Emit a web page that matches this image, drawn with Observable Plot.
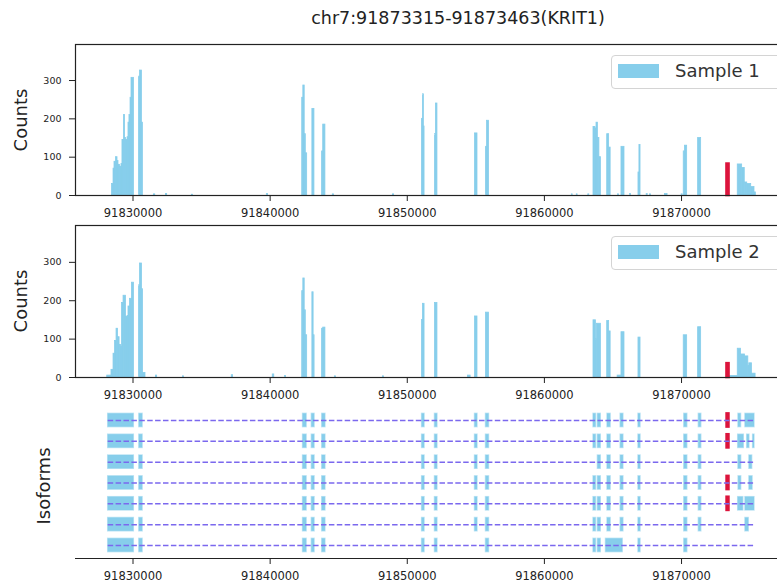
<!DOCTYPE html>
<html>
<head>
<meta charset="utf-8">
<script src="https://cdn.jsdelivr.net/npm/d3@7"></script>
<script src="https://cdn.jsdelivr.net/npm/@observablehq/plot@0.6"></script>
<style>
  html, body { margin: 0; padding: 0; background: #fff; overflow: hidden; }
  #wrap { position: relative; width: 777px; height: 584px; overflow: hidden; background: #fff; font-family: "DejaVu Sans", sans-serif; color: #222; }
  .abs { position: absolute; width: 800px; }
  .abs svg { max-width: none !important; }
  .ylab { position: absolute; font-size: 18px; transform: translate(-50%, -50%) rotate(-90deg); white-space: nowrap; color: #222; }
  .legend { position: absolute; background: #fff; border: 1px solid #d4d4d4; border-radius: 4px; height: 32px; width: 200px; }
  .legend .sw { position: absolute; left: 6px; top: 8px; width: 41px; height: 14px; background: #87CEEB; }
  .legend .tx { position: absolute; left: 63px; top: 4px; font-size: 18px; color: #333; white-space: nowrap; }
  #title { position: absolute; top: 8px; left: 458px; transform: translateX(-50%); font-size: 17.5px; white-space: nowrap; color: #222; }
</style>
</head>
<body>
<div id="wrap">
  <div id="title">chr7:91873315-91873463(KRIT1)</div>
  <div id="p1" class="abs" style="left:0;top:40px"></div>
  <div id="p2" class="abs" style="left:0;top:221px"></div>
  <div id="p3" class="abs" style="left:0;top:396px"></div>
  <div class="ylab" style="left:20px;top:120px">Counts</div>
  <div class="ylab" style="left:20px;top:301px">Counts</div>
  <div class="ylab" style="left:43px;top:486px">Isoforms</div>
  <div class="legend" style="left:611px;top:55px"><div class="sw"></div><div class="tx">Sample 1</div></div>
  <div class="legend" style="left:611px;top:236px"><div class="sw"></div><div class="tx">Sample 2</div></div>
</div>
<script>
// ---------------- data ----------------
const xTicks = [91830000, 91840000, 91850000, 91860000, 91870000];
const yTicks = [0, 100, 200, 300];
const highlight = [91873315, 91873463];
const highlightCounts = [82, 36];
const geneSpan = [91828190, 91875320];

// Sample 1 coverage: [start, end, count]
const cov1 = [
  [91828470,91828580,30],[91828580,91828650,70],[91828650,91828760,88],[91828760,91828870,100],
  [91828870,91828940,90],[91828940,91829050,80],[91829050,91829160,75],[91829160,91829230,82],
  [91829230,91829340,145],[91829340,91829420,210],[91829420,91829490,150],[91829490,91829600,145],
  [91829600,91829670,152],[91829670,91829740,190],[91829740,91829820,210],[91829820,91829890,255],
  [91829890,91830070,307],[91830440,91830510,310],[91830510,91830650,326],[91830650,91830720,190],
  [91831520,91831620,3],[91832400,91832490,4],[91834290,91834380,2],[91839760,91839850,4],
  [91844570,91844660,3],[91848950,91849040,3],
  [91842340,91842420,255],[91842420,91842520,287],[91842520,91842600,160],[91842600,91842700,110],
  [91843080,91843230,226],[91843790,91843870,115],[91843870,91844030,185],
  [91851070,91851140,200],[91851140,91851210,264],[91851210,91851260,180],
  [91852020,91852090,160],[91852090,91852200,240],[91854940,91855120,162],
  [91855740,91855820,127],[91855820,91855960,195],
  [91862000,91862060,3],[91862360,91862420,3],[91863200,91863270,3],
  [91863580,91863720,179],[91863720,91863800,175],[91863800,91863900,190],[91863900,91864010,150],
  [91864010,91864120,100],[91864580,91864720,160],[91864720,91864830,125],[91865360,91865440,3],
  [91865620,91865840,127],[91866240,91866310,4],[91866860,91866930,60],[91866930,91867010,132],
  [91867460,91867530,4],[91867700,91867770,3],[91868800,91868980,4],[91870010,91870080,3],
  [91870160,91870250,115],[91870250,91870410,130],[91871210,91871430,150],
  [91874100,91874420,81],[91874420,91874610,72],[91874610,91874790,34],[91874790,91875080,30],
  [91875080,91875320,22],[91875320,91875420,8]
];

// Sample 2 coverage: [start, end, count]
const cov2 = [
  [91828120,91828430,5],[91828430,91828580,20],[91828580,91828690,62],[91828690,91828800,95],
  [91828800,91828910,127],[91828910,91829020,105],[91829020,91829130,85],[91829130,91829200,80],
  [91829200,91829310,194],[91829310,91829490,213],[91829490,91829600,158],[91829600,91829670,160],
  [91829670,91829780,185],[91829780,91829920,205],[91829920,91830070,247],
  [91830440,91830510,240],[91830510,91830660,297],[91830660,91830730,230],[91830730,91830910,12],
  [91831670,91831760,5],[91833640,91833720,3],[91837200,91837300,6],[91840190,91840300,8],
  [91841080,91841160,4],[91844720,91844800,3],[91848220,91848300,3],
  [91842340,91842420,225],[91842420,91842520,258],[91842520,91842600,175],[91842600,91842700,110],
  [91843080,91843170,222],[91843170,91843240,110],[91843790,91843870,127],[91843870,91844030,130],
  [91851070,91851140,150],[91851140,91851260,192],[91852020,91852200,194],[91854420,91854620,5],
  [91854940,91855120,159],[91855740,91855960,169],
  [91863580,91863760,149],[91863760,91863820,100],[91863820,91864120,140],
  [91864580,91864720,147],[91864720,91864830,120],[91865340,91865600,5],[91865620,91865840,118],
  [91866860,91867010,104],[91870160,91870410,110],[91871210,91871430,131],
  [91873500,91874100,4],[91874100,91874340,75],[91874340,91874630,60],[91874630,91874870,55],
  [91874870,91874940,30],[91874940,91875140,37],[91875140,91875400,10]
];

// Isoform exons: [start, end]
const commonHead = [[91828190,91830060],[91830460,91830700],[91842400,91842660],[91843040,91843240],[91843800,91844030]];
const iso1 = [[91851080,91851260],[91852020,91852200],[91854940,91855120],[91855740,91855960],[91863580,91863760],[91863900,91864110],[91864600,91864830],[91865560,91865760],[91866860,91867010],[91870200,91870420],[91871260,91871440],[91873315,91873463],[91874150,91874340],[91874660,91875320]];
const iso2 = [[91851080,91851260],[91852020,91852200],[91854940,91855120],[91855740,91855960],[91863580,91863760],[91863900,91864110],[91864600,91864830],[91865560,91865760],[91866860,91867010],[91870200,91870420],[91871260,91871440],[91873315,91873463],[91874130,91874540],[91874790,91874950],[91875220,91875320]];
const iso3 = [[91851080,91851260],[91852020,91852200],[91854940,91855120],[91855740,91855960],[91863900,91864110],[91864600,91864830],[91865560,91865760],[91866860,91867010],[91870200,91870420],[91871260,91871440],[91874150,91874350],[91874950,91875150]];
const iso4 = [[91851080,91851260],[91852020,91852200],[91854940,91855120],[91855740,91855960],[91863580,91863760],[91863900,91864110],[91864600,91864830],[91865560,91865760],[91866860,91867010],[91870200,91870420],[91871260,91871440],[91873315,91873463],[91874160,91874350],[91874950,91875180]];
const iso5 = [[91851080,91851260],[91852020,91852200],[91854940,91855120],[91855740,91855960],[91863580,91863760],[91863900,91864110],[91864600,91864830],[91865560,91865760],[91866860,91867010],[91870200,91870420],[91871260,91871440],[91873315,91873463],[91874130,91874500],[91874660,91875320]];
const iso6 = [[91851080,91851260],[91852020,91852200],[91854940,91855120],[91855740,91855960],[91863580,91863760],[91863900,91864110],[91864600,91864830],[91865560,91865760],[91866860,91867010],[91870200,91870420],[91871260,91871440],[91874660,91874900]];
const iso7 = [[91851080,91851260],[91852020,91852200],[91855740,91855960],[91863580,91863760],[91863900,91864110],[91864490,91865710],[91866860,91867010],[91870200,91870420]];
const isoforms = [iso1, iso2, iso3, iso4, iso5, iso6, iso7];

// ---------------- drawing ----------------
const xDomain = [91825806, 91877946];
const SKY = "#87CEEB", RED = "#DC143C", INK = "#222";
const fmt = d => String(d);
const svgStyle = {fontFamily: "DejaVu Sans, sans-serif", color: INK, background: "transparent", overflow: "visible", maxWidth: "none"};

function covPanel(cov, hlCount, yMax, innerH) {
  const rows = cov.map(([s, e, c]) => ({s, e, c}));
  const hl = [{s: highlight[0], e: highlight[1], c: hlCount}];
  return Plot.plot({
    width: 800, height: 4 + innerH + 34,
    marginLeft: 75, marginRight: 10, marginTop: 4, marginBottom: 34,
    style: svgStyle,
    x: {domain: xDomain},
    y: {domain: [0, yMax]},
    marks: [
      Plot.rect(rows, {x1: "s", x2: "e", y1: 0, y2: "c", fill: SKY, stroke: SKY, strokeWidth: 0.8}),
      Plot.rect(hl, {x1: "s", x2: "e", y1: 0, y2: "c", fill: RED, stroke: RED, strokeWidth: 2.6}),
      Plot.axisX({ticks: xTicks, tickFormat: fmt, tickSize: 6, tickPadding: 7, fontSize: 11.5, label: null}),
      Plot.axisY({ticks: yTicks, tickSize: 6, tickPadding: 8, fontSize: 9.5, label: null}),
      Plot.frame({stroke: INK, strokeWidth: 1.2})
    ]
  });
}

document.getElementById("p1").append(covPanel(cov1, highlightCounts[0], 394, 151));
document.getElementById("p2").append(covPanel(cov2, highlightCounts[1], 396, 152));

// isoform panel
const exonRows = [];
isoforms.forEach((iso, i) => {
  [...commonHead, ...iso].forEach(([s, e]) => {
    exonRows.push({row: i, s, e, hl: s === highlight[0] && e === highlight[1]});
  });
});
const lineRows = isoforms.map((iso, i) => ({row: i, s: geneSpan[0], e: geneSpan[1]}));
const isoY = [6.625, -0.96];
const half = 0.32;

const p3 = Plot.plot({
  width: 800, height: 4 + 158 + 34,
  marginLeft: 75, marginRight: 10, marginTop: 4, marginBottom: 34,
  style: svgStyle,
  x: {domain: xDomain},
  y: {domain: isoY, axis: null},
  marks: [
    Plot.rect(exonRows.filter(d => !d.hl), {x1: "s", x2: "e", y1: d => d.row - half, y2: d => d.row + half, fill: SKY, stroke: SKY, strokeOpacity: 0.55, strokeWidth: 1.4}),
    Plot.rect(exonRows.filter(d => d.hl), {x1: "s", x2: "e", y1: d => d.row - half, y2: d => d.row + half, fill: RED, stroke: RED, strokeWidth: 2.4}),
    Plot.ruleY(lineRows, {y: "row", x1: "s", x2: "e", stroke: "#7B68EE", strokeWidth: 1.5, strokeDasharray: "5.5,2.4"}),
    Plot.ruleY([isoY[0]], {stroke: INK, strokeWidth: 1.2}),
    Plot.axisX({ticks: xTicks, tickFormat: fmt, tickSize: 6, tickPadding: 7, fontSize: 11.5, label: null})
  ]
});
document.getElementById("p3").append(p3);
</script>
</body>
</html>
